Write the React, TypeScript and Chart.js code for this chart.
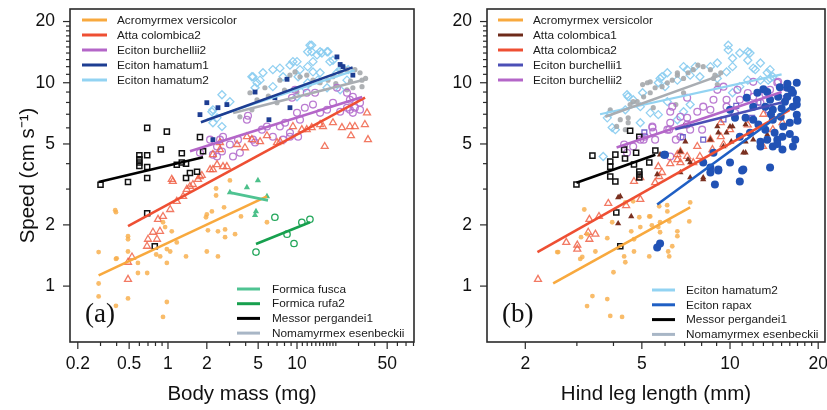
import React, { useEffect, useRef } from 'react';
import { Chart, registerables } from 'chart.js';
Chart.register(...registerables);

type P = [number, number];

// ---------- axis ticks ----------
const yTickValues = [1, 2, 3, 4, 5, 6, 7, 8, 9, 10, 11, 12, 13, 14, 15, 16, 17, 18, 19, 20];
const yTickLabels = [1, 2, 5, 10, 20];
const xTickValuesA = [0.2, 0.3, 0.4, 0.5, 0.6, 0.7, 0.8, 0.9, 1, 2, 3, 4, 5, 6, 7, 8, 9, 10, 11, 12, 13, 14, 15, 16, 17, 18, 19, 20, 30, 40, 50, 60, 70, 80];
const xTickLabelsA = [0.2, 0.5, 1, 2, 5, 10, 50];
const xTickValuesB = [2, 3, 4, 5, 6, 7, 8, 9, 10, 11, 12, 13, 14, 15, 16, 17, 18, 19, 20];
const xTickLabelsB = [2, 5, 10, 20];

// ---------- panel (a): body mass ----------
const acroA: P[] = [[0.29,1.47],[0.395,2.31],[0.395,1.36],[0.49,1.76],[0.49,1.48],[0.49,0.87],[0.29,1.03],[0.29,0.89],[0.395,0.8],[0.585,1.16],[0.69,1.16],[0.81,1.43],[0.95,1.95],[1.07,1.86],[0.98,1.52],[0.98,1.3],[0.915,0.705],[0.98,0.835],[1.38,1.4],[1.17,1.64],[2.0,1.48],[2.44,1.4],[2.44,1.86],[2.19,2.33],[2.0,2.25],[2.77,1.9],[2.77,1.74],[3.31,1.8],[5.85,2.06],[0.915,2.06],[2.36,2.79],[2.36,3.02],[3.02,3.31],[2.72,2.44],[1.97,2.18],[2.04,1.88],[3.68,2.2],[1.04,1.48],[0.87,1.4],[0.49,1.7],[0.4,1.37],[0.585,1.3],[0.39,2.36]];
const attaC2A: P[] = [[0.49,1.08],[0.49,1.31],[0.526,1.39],[0.688,1.57],[0.7,1.7],[0.765,1.84],[0.837,2.13],[0.915,2.2],[1.04,2.38],[1.17,2.61],[1.31,2.76],[1.4,2.99],[1.56,3.16],[1.71,3.35],[1.83,3.5],[2.12,3.74],[2.4,3.96],[2.67,3.87],[1.09,3.27],[0.822,1.7],[0.867,1.86],[2.86,3.87],[2.23,3.74],[1.77,3.46],[1.48,3.09],[1.07,3.35],[2.53,5.08],[4.09,5.43],[7.0,5.08],[9.3,6.09],[11.9,5.88],[15.1,6.23],[19.0,6.36],[16.4,4.86],[28.1,6.09],[34.9,7.11],[33.6,6.23],[35.5,5.25],[25.7,6.09],[26.2,5.49],[13.0,6.02],[15.9,6.09],[22.3,6.02],[10.9,5.88],[7.4,5.13],[5.85,5.49],[5.17,5.13],[4.47,5.25],[3.95,4.79],[3.43,4.97],[2.53,4.69],[2.23,4.43]];
const burch2A: P[] = [[2.23,4.43],[2.4,4.86],[2.62,4.59],[4.09,6.58],[4.17,6.88],[5.35,5.88],[5.85,6.09],[7.37,6.09],[8.08,6.36],[10.0,7.11],[10.55,6.58],[11.5,7.54],[13.3,7.81],[15.1,7.11],[17.1,7.36],[19.0,7.98],[21.6,7.2],[24.4,7.54],[25.7,8.25],[28.1,7.54],[30.8,7.36],[9.14,8.44],[9.65,9.23],[11.9,8.93],[13.8,8.93],[20.4,9.45],[24.4,8.93],[27.1,8.53],[2.67,5.43],[3.02,4.97],[3.49,5.25],[4.73,5.08],[6.5,5.43],[8.82,5.43],[10.2,5.43],[2.12,5.25],[1.77,4.53],[2.53,5.25],[2.4,4.34],[3.19,4.34],[3.61,4.53],[4.56,5.25],[7.8,5.25],[8.82,5.68],[25.7,7.36],[27.1,7.11],[30.8,7.98]];
const ham1A: P[] = [[2.0,7.98],[1.77,6.97],[2.44,7.54],[2.86,7.81],[4.73,9.0],[6.74,8.44],[8.37,10.4],[20.4,13.4],[27.1,10.9],[2.23,5.25],[8.82,7.54],[22.7,12.0],[6.06,6.58],[21.6,12.3]];
const ham2A: P[] = [[2.62,8.73],[2.19,7.2],[2.4,6.72],[2.62,6.09],[4.47,10.7],[4.9,10.0],[5.45,11.2],[6.5,9.57],[7.37,11.8],[8.82,12.2],[10.0,12.7],[10.55,11.6],[12.1,12.0],[13.0,15.3],[13.0,14.2],[14.3,13.7],[15.6,14.0],[17.1,14.2],[18.0,12.7],[19.0,12.9],[13.3,11.3],[15.1,11.2],[10.2,10.7],[20.4,11.2],[22.7,11.8],[24.9,11.6],[12.1,10.0],[14.5,10.3],[10.0,8.53],[4.73,9.45],[11.5,9.45],[17.1,9.45],[21.6,9.23],[12.6,15.3],[12.1,14.2],[15.1,14.2],[17.4,14.2],[13.3,12.7],[9.3,12.7],[4.56,10.7],[5.17,10.3],[6.5,11.6],[7.8,10.7],[3.02,8.07],[2.23,7.36],[2.23,6.36],[21.6,11.6],[24.4,10.3]];
const fuscaA: P[] = [[3.02,2.89],[4.09,3.06],[4.98,3.31],[5.85,2.76],[4.81,2.33],[4.73,2.23]];
const rufa2A: P[] = [[4.81,1.47],[6.74,2.18],[8.37,1.8],[9.48,1.62],[10.9,2.06],[12.6,2.13]];
const messorA: P[] = [[0.69,6.0],[0.98,5.75],[1.77,5.4],[0.6,4.4],[0.6,4.2],[0.6,4.05],[0.6,3.9],[0.69,4.4],[0.88,4.7],[1.28,4.5],[1.87,4.6],[0.69,3.85],[1.17,3.95],[1.38,4.0],[1.28,4.05],[1.68,3.65],[1.48,3.6],[1.38,3.4],[0.69,3.4],[0.49,3.25],[0.3,3.15],[0.69,2.28],[0.79,1.57]];
const nomaA: P[] = [[4.32,8.93],[5.64,9.45],[7.37,10.3],[8.82,10.9],[9.65,11.3],[10.55,10.7],[11.9,10.9],[13.3,10.3],[15.1,10.0],[17.4,10.3],[19.0,10.7],[21.6,11.2],[24.4,11.6],[28.1,11.6],[30.8,11.2],[31.9,10.3],[31.9,9.57],[27.1,9.45],[24.4,9.23],[10.0,9.0],[3.61,6.8],[4.47,7.36],[4.9,8.25],[7.0,7.98],[6.0,8.6],[8.0,9.2],[12.5,9.8],[20,9.9],[26,10.2],[34,10.5]];

const acroFitA: P[] = [[0.29,1.13],[5.85,2.76]];
const attaC2FitA: P[] = [[0.49,1.97],[33.7,8.44]];
const burch2FitA: P[] = [[1.48,4.6],[32,8.5]];
const ham1FitA: P[] = [[1.8,6.4],[27,11.9]];
const ham2FitA: P[] = [[2.0,6.6],[28,11.5]];
const fuscaFitA: P[] = [[2.97,2.89],[5.96,2.64]];
const rufa2FitA: P[] = [[4.81,1.61],[12.6,2.06]];
const messorFitA: P[] = [[0.29,3.25],[1.87,4.3]];
const nomaFitA: P[] = [[3.2,7.1],[32,10.3]];

// ---------- panel (b): hind leg length ----------
const acroB: P[] = [[3.18,2.38],[3.1,1.74],[2.59,1.47],[3.08,1.36],[3.47,1.48],[3.81,1.72],[3.96,2.06],[4.39,2.58],[4.67,2.61],[4.9,2.18],[4.94,1.95],[5.3,2.2],[5.73,2.47],[6.11,2.33],[6.2,2.08],[5.41,1.99],[5.77,2.06],[5.77,1.84],[4.7,1.7],[4.35,1.4],[4.7,1.48],[5.3,1.4],[6.2,1.4],[6.35,1.57],[6.61,1.76],[6.61,1.86],[7.26,2.08],[4.0,1.17],[4.39,1.31],[2.57,1.47],[3.25,1.8],[3.39,0.893],[3.81,0.863],[3.25,0.798],[3.9,0.713],[4.28,0.705],[4.6,1.86],[5.34,2.2],[6.15,1.48],[7.31,2.58],[3.13,1.39],[5.69,1.95],[6.1,2.5]];
const attaC1B: P[] = [[4.6,2.2],[4.15,2.03],[4.15,2.73],[6.77,4.59],[7.19,4.19],[7.31,3.42],[5.64,3.54],[8.1,3.35],[7.31,4.05],[8.57,5.25],[9.12,5.68],[10.0,6.09],[9.5,4.86],[8.78,4.53],[11.3,4.53],[13.4,5.56],[12.0,5.25],[7.04,5.13],[4.22,2.76],[5.77,4.43],[6.77,3.62],[6.94,6.09],[9.05,6.09],[9.73,5.68],[10.2,6.09],[11.3,6.23],[10.1,5.13],[11.1,4.53],[11.3,5.13],[8.1,3.42]];
const attaC2B: P[] = [[2.21,1.08],[2.76,1.64],[3.01,1.59],[3.01,1.52],[3.28,1.84],[3.31,1.7],[3.47,1.8],[3.31,2.13],[3.57,2.2],[3.84,2.55],[4.42,2.49],[4.94,2.67],[4.7,3.27],[4.94,3.42],[5.55,3.23],[5.73,3.46],[5.86,3.62],[5.69,3.87],[6.25,4.0],[6.61,4.43],[6.77,4.59],[7.73,4.86],[12.97,4.86],[10.0,5.88],[9.3,5.43],[9.5,4.97],[8.57,5.25],[8.71,4.69],[7.89,4.34],[7.14,4.34],[7.49,4.05],[6.61,4.19],[6.77,4.05],[9.3,6.36],[14.0,5.88],[15.1,6.36],[13,7.0],[11.5,6.2]];
const burch1B: P[] = [[8.1,5.25],[11.9,6.72],[6.9,5.4],[5.1,5.7],[13.5,7.3],[9.5,6.6],[15.5,8.4],[10.5,7.7],[12.5,8.0]];
const burch2B: P[] = [[5.43,6.02],[6.25,7.2],[6.35,7.63],[6.77,6.8],[7.73,7.2],[7.14,8.44],[8.1,7.63],[8.78,8.25],[9.05,9.23],[9.73,7.63],[10.4,7.11],[10.8,8.25],[12.0,8.53],[12.7,7.98],[13.7,9.23],[14.5,10.0],[7.31,5.88],[6.77,5.43],[10.6,9.23],[9.5,9.57],[6.11,5.88],[5.07,5.25],[4.67,4.86],[6.25,4.34],[5.43,6.09],[5.11,5.43],[5.55,5.25],[6.2,5.88],[4.35,4.97],[4.45,4.53],[6.53,5.25],[7.14,6.23],[8.03,5.88],[14.6,10.1],[12.0,10.1],[9.73,8.25],[8.57,7.36],[7.14,6.72],[6.25,6.36],[5.47,5.74],[4.94,5.25],[15.5,9.5],[11.5,8.9],[13.2,8.8]];
const ham2B: P[] = [[9.86,15.3],[9.86,14.5],[10.2,13.2],[10.8,14.0],[11.5,14.2],[11.5,12.9],[10.2,12.0],[12.0,11.8],[12.7,12.5],[13.4,11.2],[14.0,10.7],[13.5,10.3],[9.73,11.3],[9.05,12.5],[8.57,12.0],[7.89,10.7],[7.31,10.9],[6.94,12.0],[6.61,10.3],[6.11,11.2],[5.69,10.0],[5.86,10.7],[5.03,8.93],[4.67,8.25],[4.45,8.73],[3.9,7.11],[3.81,6.72],[4.06,5.88],[3.69,4.34],[4.39,7.36],[4.94,7.63],[5.34,7.11],[7.61,12.0],[9.05,10.5],[10.8,9.57],[11.5,10.3],[12.7,10.3],[10.2,8.93],[6.61,6.58],[6.94,7.2],[7.31,7.81],[6.11,8.07],[5.69,6.97],[4.94,6.36],[3.96,6.02],[4.49,8.53],[5.77,10.5],[6.0,9.57],[7.14,11.6],[11.7,14.0],[12.2,11.6],[13.7,10.5],[13.7,11.6]];
const rapaxB: P[] = [[16.9,10.0],[15.7,9.45],[14.6,8.53],[15.7,8.53],[16.4,8.93],[16.9,8.25],[16.9,7.81],[16.4,7.63],[15.4,8.07],[13.7,8.25],[13.4,9.0],[12.4,8.93],[11.4,8.44],[13.2,7.63],[14.0,7.36],[14.9,6.8],[16.9,6.97],[16.0,6.36],[15.2,6.09],[14.0,6.58],[12.0,6.58],[11.3,6.72],[12.5,6.23],[13.2,5.88],[14.2,5.68],[15.1,5.43],[14.5,5.25],[13.4,5.25],[16.7,5.25],[16.4,4.86],[15.1,4.69],[14.0,4.86],[12.7,5.13],[10.8,5.43],[10.0,7.36],[10.4,6.72],[12.0,7.63],[8.78,4.53],[8.1,4.05],[9.12,3.74],[10.8,3.27],[10.0,4.05],[11.1,3.74],[13.7,3.83],[6.0,4.43],[11.7,5.68],[12.7,4.86],[8.57,3.83],[8.57,3.62],[9.12,3.7],[8.88,3.16],[11.0,3.7],[5.96,4.43],[5.64,1.55],[5.77,1.62],[15.7,9.9],[14.8,9.5],[16.2,9.2],[13.0,9.3],[15.0,7.5],[13.8,7.0],[17.0,6.5],[16.0,5.6],[14.5,5.0]];
const messorB: P[] = [[3.39,4.38],[2.99,3.16],[3.9,4.1],[4.06,4.43],[4.35,4.69],[4.38,4.24],[4.78,4.53],[4.9,5.43],[4.56,5.81],[3.9,3.87],[3.9,3.46],[4.06,3.27],[4.7,3.96],[4.9,3.66],[4.9,3.54],[4.9,3.42],[5.3,4.05],[5.56,4.64],[4.09,2.3],[4.22,1.57]];
const nomaB: P[] = [[3.9,7.36],[4.56,7.81],[4.82,8.07],[5.07,8.53],[5.34,8.93],[5.55,9.45],[5.86,9.57],[6.11,10.0],[6.35,10.3],[6.61,10.9],[7.19,11.2],[7.49,11.6],[7.77,12.2],[8.1,12.0],[8.57,11.6],[8.88,10.9],[9.05,9.8],[4.22,6.58],[4.49,6.72],[4.49,6.36],[4.39,5.88],[5.22,10.0],[6.53,7.81],[6.94,8.93],[5.47,7.54],[5.03,9.8],[5.34,10.1],[6.61,11.2],[6.94,10.5],[8.78,10.5],[9.3,11.2],[4.67,8.07],[4.1,6.1]];

const acroFitB: P[] = [[2.49,1.03],[7.31,2.44]];
const attaC2FitB: P[] = [[2.2,1.47],[16.0,7.36]];
const burch1FitB: P[] = [[6.5,5.9],[15.0,8.0]];
const burch2FitB: P[] = [[4.1,4.8],[15.0,9.0]];
const ham2FitB: P[] = [[3.6,7.0],[15.0,11.0]];
const rapaxFitB: P[] = [[5.64,2.52],[16.0,7.54]];
const messorFitB: P[] = [[2.99,3.22],[5.56,4.43]];
const nomaFitB: P[] = [[3.75,6.8],[9.3,10.9]];

// ---------- legends ----------
const legendTopA = ['Acromyrmex versicolor', 'Atta colombica2', 'Eciton burchellii2', 'Eciton hamatum1', 'Eciton hamatum2'];
const legendBottomA = ['Formica fusca', 'Formica rufa2', 'Messor pergandei1', 'Nomamyrmex esenbeckii'];
const legendTopB = ['Acromyrmex versicolor', 'Atta colombica1', 'Atta colombica2', 'Eciton burchellii1', 'Eciton burchellii2'];
const legendBottomB = ['Eciton hamatum2', 'Eciton rapax', 'Messor pergandei1', 'Nomamyrmex esenbeckii'];

const COL: Record<string, string> = {
  'Acromyrmex versicolor': '#f8a93e',
  'Atta colombica1': '#6e2a1a',
  'Atta colombica2': '#ee4f33',
  'Eciton burchellii1': '#4b4fb6',
  'Eciton burchellii2': '#b466c8',
  'Eciton hamatum1': '#1d3d92',
  'Eciton hamatum2': '#92d3f2',
  'Eciton rapax': '#1f5fc4',
  'Formica fusca': '#4fc392',
  'Formica rufa2': '#17a04e',
  'Messor pergandei1': '#000000',
  'Nomamyrmex esenbeckii': '#a8b6c6',
};

const SANS = "'Liberation Sans', Arial, Helvetica, sans-serif";
const SERIF = "'Liberation Serif', 'Times New Roman', serif";

const pts = (arr: P[]) => arr.map(([x, y]) => ({ x, y }));

function pointSet(label: string, data: P[], style: string, color: string, filled: boolean, radius: number, bw = 1.3) {
  return {
    label,
    data: pts(data),
    showLine: false,
    pointStyle: style,
    pointRadius: radius,
    pointHoverRadius: radius,
    backgroundColor: filled ? color : 'rgba(0,0,0,0)',
    borderColor: color,
    pointBorderWidth: filled ? 0 : bw,
    borderWidth: filled ? 0 : bw,
  };
}

function fitSet(label: string, data: P[], color: string, width = 2.6) {
  return {
    label,
    data: pts(data),
    showLine: true,
    pointRadius: 0,
    pointHoverRadius: 0,
    borderColor: color,
    backgroundColor: color,
    borderWidth: width,
    fill: false,
  };
}

const decorPlugin = {
  id: 'decor',
  afterDraw(chart: any, _args: any, opts: any) {
    const { ctx, chartArea: a, scales } = chart;
    ctx.save();
    ctx.strokeStyle = '#2a2a2a';
    ctx.lineWidth = 1.6;
    ctx.strokeRect(a.left, a.top, a.right - a.left, a.bottom - a.top);
    ctx.lineWidth = 1.2;
    const xs = scales.x, ys = scales.y;
    xs.ticks.forEach((t: any) => {
      const px = xs.getPixelForValue(t.value);
      const len = opts.xMajor.includes(t.value) ? 7 : 4;
      ctx.beginPath(); ctx.moveTo(px, a.bottom); ctx.lineTo(px, a.bottom + len); ctx.stroke();
    });
    ys.ticks.forEach((t: any) => {
      const py = ys.getPixelForValue(t.value);
      const len = opts.yMajor.includes(t.value) ? 7 : 4;
      ctx.beginPath(); ctx.moveTo(a.left, py); ctx.lineTo(a.left - len, py); ctx.stroke();
    });
    // legends
    ctx.font = `11.8px ${SANS}`;
    ctx.textBaseline = 'middle';
    ctx.textAlign = 'left';
    opts.legends.forEach((lg: any) => {
      lg.items.forEach((name: string, i: number) => {
        const y = a.top + lg.dy + i * lg.step;
        const x0 = a.left + lg.dx;
        ctx.strokeStyle = COL[name];
        ctx.lineWidth = 3;
        ctx.beginPath(); ctx.moveTo(x0, y); ctx.lineTo(x0 + lg.len, y); ctx.stroke();
        ctx.fillStyle = '#1a1a1a';
        ctx.fillText(name, a.left + lg.tx, y + 0.5);
      });
    });
    // panel tag
    ctx.font = `27px ${SERIF}`;
    ctx.textBaseline = 'alphabetic';
    ctx.fillStyle = '#111';
    ctx.fillText(opts.tag, a.left + 15, a.top + 313);
    ctx.restore();
  },
};

const zeroPad = (s: any) => { s.paddingTop = 0; s.paddingBottom = 0; s.paddingLeft = 0; s.paddingRight = 0; };

function makeOptions(cfg: any) {
  return {
    animation: false,
    responsive: false,
    maintainAspectRatio: false,
    events: [],
    layout: { padding: { top: 9, right: cfg.padRight, left: 0, bottom: 0 }, autoPadding: false },
    plugins: {
      legend: { display: false },
      tooltip: { enabled: false },
      decor: { xMajor: cfg.xLabels, yMajor: yTickLabels, legends: cfg.legends, tag: cfg.tag },
    },
    scales: {
      x: {
        type: 'logarithmic',
        position: 'bottom',
        min: cfg.xMin,
        max: cfg.xMax,
        grid: { display: false, drawTicks: false },
        border: { display: false },
        ticks: {
          autoSkip: false,
          maxRotation: 0,
          minRotation: 0,
          padding: 12,
          color: '#111',
          font: { family: SANS, size: 17.5 },
          callback: (v: any) => (cfg.xLabels.includes(v) ? String(v) : ''),
        },
        afterBuildTicks: (s: any) => { s.ticks = cfg.xTicks.map((v: number) => ({ value: v })); },
        afterFit: (s: any) => { s.height = 68; zeroPad(s); },
        title: { display: true, text: cfg.xTitle, color: '#111', font: { family: SANS, size: 20.5 }, padding: { top: 0, bottom: 3 } },
      },
      y: {
        type: 'logarithmic',
        position: 'left',
        min: 0.531,
        max: 23.05,
        grid: { display: false, drawTicks: false },
        border: { display: false },
        ticks: {
          autoSkip: false,
          padding: 15,
          color: '#111',
          font: { family: SANS, size: 17.5 },
          callback: (v: any) => (yTickLabels.includes(v) ? String(v) : ''),
        },
        afterBuildTicks: (s: any) => { s.ticks = yTickValues.map((v: number) => ({ value: v })); },
        afterFit: (s: any) => { s.width = cfg.yWidth; zeroPad(s); },
        title: { display: cfg.yTitle !== '', text: cfg.yTitle, color: '#111', font: { family: SANS, size: 20.5 }, padding: { top: 16, bottom: 0 } },
      },
    },
  };
}

function datasetsA() {
  return [
    fitSet('Messor pergandei1 fit', messorFitA, COL['Messor pergandei1']),
    fitSet('Formica rufa2 fit', rufa2FitA, COL['Formica rufa2']),
    fitSet('Formica fusca fit', fuscaFitA, COL['Formica fusca']),
    fitSet('Acromyrmex versicolor fit', acroFitA, COL['Acromyrmex versicolor']),
    fitSet('Eciton hamatum1 fit', ham1FitA, COL['Eciton hamatum1']),
    fitSet('Eciton hamatum2 fit', ham2FitA, COL['Eciton hamatum2'], 2.2),
    fitSet('Eciton burchellii2 fit', burch2FitA, COL['Eciton burchellii2']),
    fitSet('Atta colombica2 fit', attaC2FitA, COL['Atta colombica2']),
    fitSet('Nomamyrmex esenbeckii fit', nomaFitA, '#a9adb2'),
    pointSet('Messor pergandei1', messorA, 'rect', '#111111', false, 3.6, 1.5),
    pointSet('Formica rufa2', rufa2A, 'circle', '#22a65a', false, 3.2),
    pointSet('Formica fusca', fuscaA, 'triangle', '#4cc08a', true, 3.6),
    pointSet('Eciton hamatum1', ham1A, 'rect', '#1d3d92', true, 3.4),
    pointSet('Acromyrmex versicolor', acroA, 'circle', 'rgba(248,176,80,0.85)', true, 2.4),
    pointSet('Atta colombica2', attaC2A, 'triangle', 'rgba(240,98,72,0.85)', false, 4, 1.3),
    pointSet('Eciton burchellii2', burch2A, 'circle', 'rgba(180,110,205,0.9)', false, 3.4, 1.3),
    pointSet('Nomamyrmex esenbeckii', nomaA, 'circle', 'rgba(165,168,172,0.9)', true, 2.6),
    pointSet('Eciton hamatum2', ham2A, 'rectRot', 'rgba(140,206,240,0.95)', false, 4, 1.3),
  ];
}

function datasetsB() {
  return [
    fitSet('Messor pergandei1 fit', messorFitB, COL['Messor pergandei1']),
    fitSet('Acromyrmex versicolor fit', acroFitB, COL['Acromyrmex versicolor']),
    fitSet('Eciton rapax fit', rapaxFitB, COL['Eciton rapax']),
    fitSet('Atta colombica2 fit', attaC2FitB, COL['Atta colombica2']),
    fitSet('Eciton burchellii1 fit', burch1FitB, COL['Eciton burchellii1']),
    fitSet('Eciton burchellii2 fit', burch2FitB, COL['Eciton burchellii2']),
    fitSet('Nomamyrmex esenbeckii fit', nomaFitB, '#a9adb2'),
    fitSet('Eciton hamatum2 fit', ham2FitB, COL['Eciton hamatum2'], 2.2),
    pointSet('Messor pergandei1', messorB, 'rect', '#111111', false, 3.6, 1.5),
    pointSet('Eciton rapax', rapaxB, 'circle', '#2152b5', true, 4),
    pointSet('Atta colombica1', attaC1B, 'triangle', '#7a3020', true, 3.6),
    pointSet('Acromyrmex versicolor', acroB, 'circle', 'rgba(248,176,80,0.85)', true, 2.4),
    pointSet('Atta colombica2', attaC2B, 'triangle', 'rgba(240,98,72,0.85)', false, 4, 1.3),
    pointSet('Eciton burchellii1', burch1B, 'rect', 'rgba(100,85,200,0.9)', false, 3.4, 1.3),
    pointSet('Eciton burchellii2', burch2B, 'circle', 'rgba(180,110,205,0.9)', false, 3.4, 1.3),
    pointSet('Nomamyrmex esenbeckii', nomaB, 'circle', 'rgba(165,168,172,0.9)', true, 2.6),
    pointSet('Eciton hamatum2', ham2B, 'rectRot', 'rgba(140,206,240,0.95)', false, 4, 1.3),
  ];
}

function Panel(props: { which: 'a' | 'b'; left: number; width: number }) {
  const ref = useRef<HTMLCanvasElement | null>(null);
  useEffect(() => {
    const canvas = ref.current;
    if (!canvas) return;
    const isA = props.which === 'a';
    const cfg = isA
      ? {
          xMin: 0.174, xMax: 80.7, xTicks: xTickValuesA, xLabels: xTickLabelsA,
          xTitle: 'Body mass (mg)', yTitle: 'Speed (cm s\u207B\u00B9)', yWidth: 70, padRight: 6, tag: '(a)',
          legends: [
            { items: legendTopA, dx: 12, len: 25, tx: 47, dy: 11, step: 15 },
            { items: legendBottomA, dx: 167, len: 23, tx: 202, dy: 280, step: 14.7 },
          ],
        }
      : {
          xMin: 1.48, xMax: 21.1, xTicks: xTickValuesB, xLabels: xTickLabelsB,
          xTitle: 'Hind leg length (mm)', yTitle: '', yWidth: 67, padRight: 2, tag: '(b)',
          legends: [
            { items: legendTopB, dx: 11, len: 25, tx: 46, dy: 11, step: 15 },
            { items: legendBottomB, dx: 165, len: 23, tx: 199, dy: 281, step: 14.8 },
          ],
        };
    const chart = new Chart(canvas, {
      type: 'scatter',
      data: { datasets: (isA ? datasetsA() : datasetsB()) as any },
      options: makeOptions(cfg) as any,
      plugins: [decorPlugin as any],
    });
    return () => chart.destroy();
  }, [props.which]);
  return (
    <canvas
      ref={ref}
      width={props.width}
      height={410}
      style={{ position: 'absolute', left: props.left, top: 0, width: props.width, height: 410, display: 'block' }}
    />
  );
}

export default function App() {
  return (
    <div style={{ position: 'fixed', left: 0, top: 0, width: 827, height: 410, overflow: 'hidden', background: '#ffffff' }}>
      <Panel which="a" left={0} width={420} />
      <Panel which="b" left={420} width={407} />
    </div>
  );
}
